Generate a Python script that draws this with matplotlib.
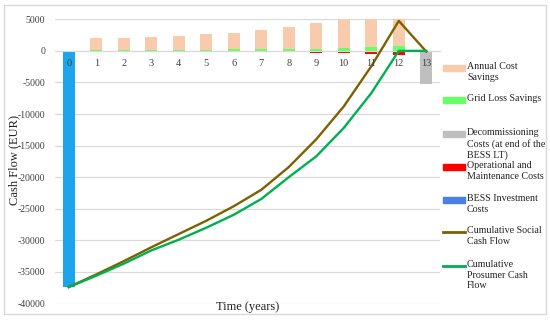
import numpy as np
import matplotlib.pyplot as plt
from matplotlib.patches import Rectangle
from matplotlib.lines import Line2D

# data (EUR)
years = np.arange(0, 14)
annual_savings = [0, 1850, 1940, 2090, 2240, 2490, 2680, 3030, 3530, 4130, 4650, 5600, 6350, 0]
grid_loss = [0, 150, 160, 170, 180, 200, 220, 240, 270, 300, 450, 600, 750, 0]
decommissioning = [0, 0, 0, 0, 0, 0, 0, 0, 0, 0, 0, 0, 0, -5200]
om_costs = [0, -180, -180, -190, -190, -200, -210, -220, -250, -350, -380, -520, -650, 0]
investment = [-37400, 0, 0, 0, 0, 0, 0, 0, 0, 0, 0, 0, 0, 0]
cum_social = [-37400, -35400, -33300, -31100, -29000, -26900, -24600, -22000, -18400,
              -14000, -8800, -2450, 4750, -100]
cum_prosumer = [-37400, -35600, -33700, -31600, -29900, -28000, -25950, -23450, -20000,
                -16700, -12200, -6700, 0, 0]
yticks = np.arange(-40000, 5001, 5000)

c_save = "#F8CBAD"
c_grid = "#66FF66"
c_dec = "#BFBFBF"
c_om = "#FF0000"
c_inv = "#1AA5EC"
c_soc = "#7F6000"
c_pro = "#00B050"
serif = "Liberation Serif"

W, H = 550, 321
fig = plt.figure(figsize=(W / 100, H / 100), dpi=100)


def fx(x):
    return x / W


def fy(y):
    return 1 - y / H


ax = fig.add_axes([fx(55), fy(303.5), fx(440) - fx(55), fy(19.3) - fy(303.5)])
# axis line at zero (set before tick styling, it resets the ticks)
for s in ["left", "right", "top"]:
    ax.spines[s].set_visible(False)
ax.spines["bottom"].set_position(("data", 0))
ax.spines["bottom"].set_color("#D9D9D9")

bw = 0.43
ax.bar(years, grid_loss, bw, color=c_grid, zorder=1)
ax.bar(years, annual_savings, bw, bottom=grid_loss, color=c_save, zorder=1)
ax.bar(years, decommissioning, bw, color=c_dec, zorder=1)
ax.bar(years, om_costs, bw, color=c_om, zorder=1)
ax.bar(years, investment, bw, color=c_inv, zorder=1)
ax.plot(years, cum_social, color=c_soc, lw=1.7, zorder=3)
ax.plot(years, cum_prosumer, color=c_pro, lw=1.7, zorder=3)

ax.set_xlim(-0.5, 13.5)
ax.set_ylim(-40000, 5000)
ax.set_yticks(yticks)
ax.set_yticklabels([str(v) for v in yticks], fontfamily=serif, fontsize=7, color="#404040")
ax.set_xticks(years)
ax.set_xticklabels([str(v) for v in years], fontfamily=serif, fontsize=7.5, color="#404040")
ax.tick_params(axis="x", length=0, pad=6)
ax.tick_params(axis="y", length=0, pad=7)
ax.grid(axis="y", color="#D9D9D9", lw=0.9, zorder=0)
ax.set_axisbelow(True)
ax.xaxis.set_zorder(4)

fig.text(fx(14), fy(160), "Cash Flow (EUR)", rotation=90, ha="center", va="center",
         fontfamily=serif, fontsize=9, color="#222222")
fig.text(fx(247.5), fy(307), "Time (years)", ha="center", va="center",
         fontfamily=serif, fontsize=9, color="#222222")

# legend on the right
entries = [
    ("bar", c_save, "Annual Cost\nSavings", 68),
    ("bar", c_grid, "Grid Loss Savings", 100),
    ("bar", c_dec, "Decommissioning\nCosts (at end of the\nBESS LT)", 134),
    ("bar", c_om, "Operational and\nMaintenance Costs", 167),
    ("bar", "#4A80E6", "BESS Investment\nCosts", 200),
    ("line", c_soc, "Cumulative Social\nCash Flow", 232),
    ("line", c_pro, "Cumulative\nProsumer Cash\nFlow", 266),
]
for kind, col, label, y in entries:
    if kind == "bar":
        fig.patches.append(Rectangle((fx(443), fy(y + 3)), fx(22), fy(y - 3) - fy(y + 3),
                                     transform=fig.transFigure, color=col))
    else:
        fig.lines.append(Line2D([fx(443), fx(465)], [fy(y), fy(y)],
                                transform=fig.transFigure, color=col, lw=2))
    fig.text(fx(467), fy(y - 6), label, ha="left", va="top", fontfamily=serif,
             fontsize=7.2, color="#222222", linespacing=1.25)

# outer chart frame
fig.patches.append(Rectangle((fx(4), fy(314)), fx(542), fy(5) - fy(314),
                             transform=fig.transFigure, fill=False, ec="#D9D9D9", lw=1))

plt.savefig("out.png", dpi=100)
